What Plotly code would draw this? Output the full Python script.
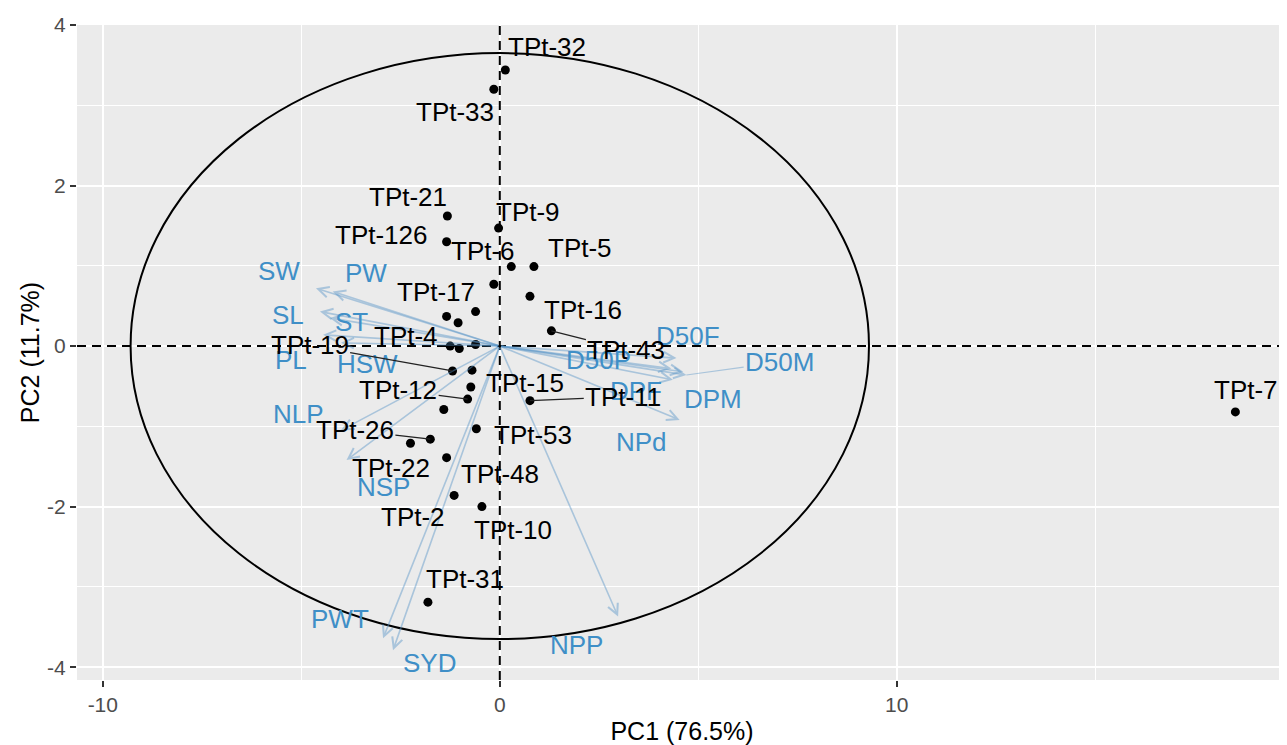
import plotly.graph_objects as go

# ---------------- data ----------------
# sample scores (PC1, PC2)
sample_names = ["TPt-32", "TPt-33", "TPt-21", "TPt-9", "TPt-126", "TPt-6", "TPt-5",
                "TPt-17", "TPt-16", "", "", "", "TPt-43", "TPt-4", "", "",
                "TPt-19", "TPt-15", "TPt-12", "", "", "TPt-53", "TPt-26", "TPt-22",
                "TPt-48", "TPt-2", "TPt-10", "TPt-11", "TPt-31", "TPt-7"]
sample_pc1 = [0.14, -0.15, -1.32, -0.03, -1.34, 0.29, 0.86,
              -0.15, 0.76, -0.61, -1.34, -1.05, 1.30, -1.25, -1.02, -0.61,
              -1.19, -0.70, -0.81, -0.73, -1.41, -0.59, -1.75, -2.25,
              -1.34, -1.15, -0.45, 0.76, -1.81, 18.53]
sample_pc2 = [3.44, 3.20, 1.62, 1.47, 1.30, 0.99, 0.99,
              0.77, 0.62, 0.43, 0.37, 0.29, 0.19, 0.00, -0.03, 0.02,
              -0.31, -0.30, -0.66, -0.51, -0.79, -1.03, -1.16, -1.21,
              -1.39, -1.86, -2.00, -0.68, -3.19, -0.82]

# variable loadings (arrow tips)
var_names = ["SW", "PW", "SL", "ST", "PL", "HSW", "NLP", "NSP", "PWT", "SYD",
             "NPP", "NPd", "DPM", "D50M", "D50F", "D50P", "DPF"]
var_pc1 = [-4.63, -4.21, -4.53, -4.28, -4.45, -4.00, -4.00, -3.86, -2.94, -2.69,
           2.98, 4.53, 4.62, 4.70, 4.45, 4.32, 4.36]
var_pc2 = [0.72, 0.68, 0.43, 0.35, 0.14, 0.04, -1.05, -1.42, -3.64, -3.79,
           -3.37, -0.92, -0.32, -0.36, -0.15, -0.28, -0.42]

axis_x_title = "PC1 (76.5%)"
axis_y_title = "PC2 (11.7%)"
x_ticks = [-10, 0, 10]
x_tick_labels = ["-10", "0", "10"]
y_ticks = [-4, -2, 0, 2, 4]
y_tick_labels = ["-4", "-2", "0", "2", "4"]

# ---------------- layout helpers (label placement) ----------------
sample_label_x = [1.18, -1.13, -2.32, 0.71, -2.98, -0.43, 2.02,
                  -1.61, 2.09, None, None, None, 3.19, -2.35, None, None,
                  -4.79, 0.63, -2.56, None, None, 0.84, -3.65, -2.73,
                  0.00, -2.18, 0.34, 3.11, -0.88, 18.80]
sample_label_y = [3.72, 2.92, 1.86, 1.67, 1.38, 1.18, 1.22,
                  0.68, 0.45, None, None, None, -0.05, 0.12, None, None,
                  0.01, -0.46, -0.55, None, None, -1.11, -1.05, -1.52,
                  -1.59, -2.13, -2.29, -0.63, -2.90, -0.55]
sample_leader = ["TPt-43", "TPt-19", "TPt-12", "TPt-26", "TPt-11"]

var_label_x = [-5.56, -3.36, -5.33, -3.74, -5.25, -3.32, -5.08, -2.94, -4.03, -1.76,
               1.93, 3.57, 5.37, 7.05, 4.74, 2.48, 3.44]
var_label_y = [0.93, 0.91, 0.39, 0.30, -0.17, -0.22, -0.84, -1.75, -3.40, -3.95,
               -3.73, -1.19, -0.66, -0.20, 0.12, -0.17, -0.56]
var_leader = ["D50M"]

ellipse_rx, ellipse_ry = 9.3, 3.65

FONT = "Liberation Sans, Arial, sans-serif"
VAR_TEXT = "#3f8fc7"
VAR_LINE = "rgba(90,150,200,0.45)"

fig = go.Figure()

# sample points
fig.add_trace(go.Scatter(x=sample_pc1, y=sample_pc2, mode="markers",
                         marker=dict(color="black", size=9), hoverinfo="skip",
                         showlegend=False))

annotations = []
# variable arrows
for n, vx, vy in zip(var_names, var_pc1, var_pc2):
    annotations.append(dict(x=vx, y=vy, ax=0, ay=0, xref="x", yref="y",
                            axref="x", ayref="y", text="", showarrow=True,
                            arrowhead=5, arrowsize=1.3, arrowwidth=1.6,
                            arrowcolor=VAR_LINE, standoff=0))
# variable labels
for n, vx, vy, lx, ly in zip(var_names, var_pc1, var_pc2, var_label_x, var_label_y):
    if n in var_leader:
        annotations.append(dict(x=vx, y=vy, ax=lx, ay=ly, xref="x", yref="y",
                                axref="x", ayref="y", text=n, showarrow=True,
                                arrowhead=0, arrowwidth=1.2, arrowcolor=VAR_LINE,
                                font=dict(family=FONT, size=26, color=VAR_TEXT)))
    else:
        annotations.append(dict(x=lx, y=ly, xref="x", yref="y", text=n,
                                showarrow=False,
                                font=dict(family=FONT, size=26, color=VAR_TEXT)))
# sample labels
for n, px, py, lx, ly in zip(sample_names, sample_pc1, sample_pc2,
                             sample_label_x, sample_label_y):
    if not n:
        continue
    if n in sample_leader:
        annotations.append(dict(x=px, y=py, ax=lx, ay=ly, xref="x", yref="y",
                                axref="x", ayref="y", text=n, showarrow=True,
                                arrowhead=0, arrowwidth=1.2, arrowcolor="#222222",
                                font=dict(family=FONT, size=26, color="black")))
    else:
        annotations.append(dict(x=lx, y=ly, xref="x", yref="y", text=n,
                                showarrow=False,
                                font=dict(family=FONT, size=26, color="black")))

shapes = [
    dict(type="circle", xref="x", yref="y", x0=-ellipse_rx, x1=ellipse_rx,
         y0=-ellipse_ry, y1=ellipse_ry, line=dict(color="black", width=2),
         layer="above"),
    dict(type="line", xref="x", yref="paper", x0=0, x1=0, y0=0, y1=1,
         line=dict(color="black", width=2, dash="9px,6px"), layer="above"),
    dict(type="line", xref="paper", yref="y", x0=0, x1=1, y0=0, y1=0,
         line=dict(color="black", width=2, dash="9px,6px"), layer="above"),
]

# the page body has an 8px margin; size the figure so the panel lands where
# the reference has it (left 77, top 25, right 1287, bottom 680)
fig.update_layout(
    width=1279, height=737,
    margin=dict(l=69, r=0, t=17, b=65),
    paper_bgcolor="white", plot_bgcolor="#EBEBEB",
    annotations=annotations, shapes=shapes, showlegend=False,
    font=dict(family=FONT),
)
fig.update_xaxes(range=[-10.65, 19.83], tickvals=x_ticks, ticktext=x_tick_labels,
                 ticks="outside",
                 ticklen=6, tickwidth=2, tickcolor="#333333",
                 tickfont=dict(family=FONT, size=21, color="#4D4D4D"),
                 showgrid=True, gridcolor="white", gridwidth=2, zeroline=False,
                 minor=dict(dtick=5, tick0=0, showgrid=True, gridcolor="white",
                            gridwidth=1, ticklen=0),
                 title=dict(text=axis_x_title, standoff=7,
                            font=dict(family=FONT, size=25, color="black")),
                 automargin=False)
fig.update_yaxes(range=[-4.16, 4.0], tickvals=y_ticks, ticktext=y_tick_labels,
                 ticks="outside",
                 ticklen=6, tickwidth=2, tickcolor="#333333",
                 tickfont=dict(family=FONT, size=21, color="#4D4D4D"),
                 showgrid=True, gridcolor="white", gridwidth=2, zeroline=False,
                 minor=dict(dtick=1, tick0=0, showgrid=True, gridcolor="white",
                            gridwidth=1, ticklen=0),
                 title=dict(text=axis_y_title, standoff=0,
                            font=dict(family=FONT, size=25, color="black")),
                 automargin=False)

fig.write_html("out.html")
